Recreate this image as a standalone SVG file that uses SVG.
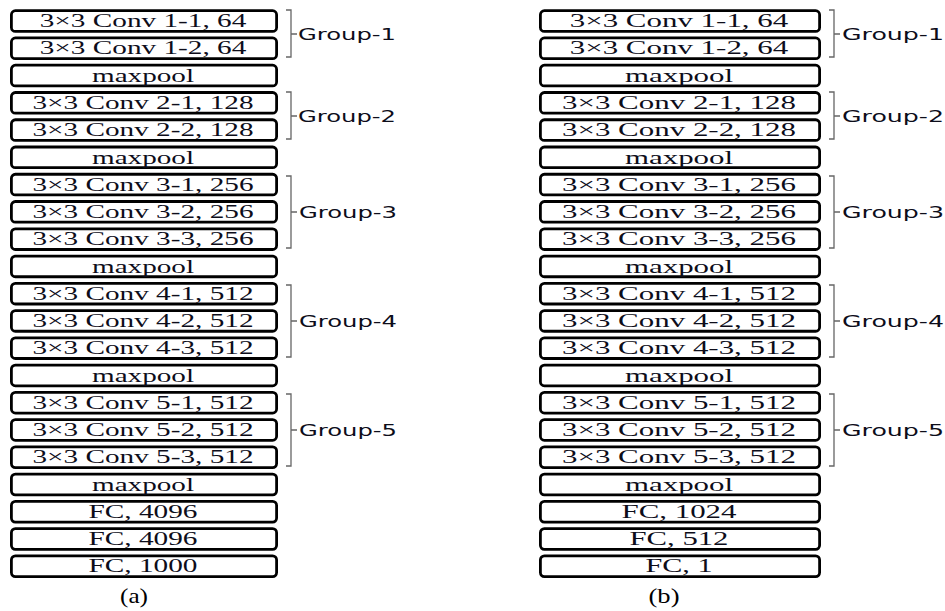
<svg xmlns="http://www.w3.org/2000/svg" width="945" height="611" viewBox="0 0 945 611">
<style>
.b{fill:#fff;stroke:#000;stroke-width:2.8}
.t{font-family:"Liberation Serif","Times New Roman",serif;font-size:18.5px;fill:#0d0d1a;text-anchor:middle}
.g{font-family:"DejaVu Sans","Open Sans",sans-serif;font-size:16px;fill:#0d0d1a}
.br{fill:none;stroke:#666;stroke-width:1.3}
.cap{font-family:"Liberation Serif","Times New Roman",serif;font-size:21px;fill:#000;text-anchor:middle}
</style>
<rect width="945" height="611" fill="#fff"/>
<defs>
<rect id="L" class="b" x="11.4" y="0" width="265.2" height="20.7" rx="4"/>
<rect id="R" class="b" x="540.4" y="0" width="279.2" height="20.7" rx="4"/>
</defs>
<g id="netA">
<g id="a1"><use href="#L" y="10.7"/><text class="t" x="143" y="27.2" textLength="206.5" lengthAdjust="spacingAndGlyphs">3×3 Conv 1-1, 64</text></g>
<g id="a2"><use href="#L" y="37.96"/><text class="t" x="143" y="54.46" textLength="206.5" lengthAdjust="spacingAndGlyphs">3×3 Conv 1-2, 64</text></g>
<g id="a3"><use href="#L" y="65.22"/><text class="t" x="143" y="81.72" textLength="102" lengthAdjust="spacingAndGlyphs">maxpool</text></g>
<g id="a4"><use href="#L" y="92.48"/><text class="t" x="143" y="108.98" textLength="221" lengthAdjust="spacingAndGlyphs">3×3 Conv 2-1, 128</text></g>
<g id="a5"><use href="#L" y="119.74"/><text class="t" x="143" y="136.24" textLength="221" lengthAdjust="spacingAndGlyphs">3×3 Conv 2-2, 128</text></g>
<g id="a6"><use href="#L" y="147"/><text class="t" x="143" y="163.5" textLength="102" lengthAdjust="spacingAndGlyphs">maxpool</text></g>
<g id="a7"><use href="#L" y="174.26"/><text class="t" x="143" y="190.76" textLength="221" lengthAdjust="spacingAndGlyphs">3×3 Conv 3-1, 256</text></g>
<g id="a8"><use href="#L" y="201.52"/><text class="t" x="143" y="218.02" textLength="221" lengthAdjust="spacingAndGlyphs">3×3 Conv 3-2, 256</text></g>
<g id="a9"><use href="#L" y="228.78"/><text class="t" x="143" y="245.28" textLength="221" lengthAdjust="spacingAndGlyphs">3×3 Conv 3-3, 256</text></g>
<g id="a10"><use href="#L" y="256.04"/><text class="t" x="143" y="272.54" textLength="102" lengthAdjust="spacingAndGlyphs">maxpool</text></g>
<g id="a11"><use href="#L" y="283.3"/><text class="t" x="143" y="299.8" textLength="221" lengthAdjust="spacingAndGlyphs">3×3 Conv 4-1, 512</text></g>
<g id="a12"><use href="#L" y="310.56"/><text class="t" x="143" y="327.06" textLength="221" lengthAdjust="spacingAndGlyphs">3×3 Conv 4-2, 512</text></g>
<g id="a13"><use href="#L" y="337.82"/><text class="t" x="143" y="354.32" textLength="221" lengthAdjust="spacingAndGlyphs">3×3 Conv 4-3, 512</text></g>
<g id="a14"><use href="#L" y="365.08"/><text class="t" x="143" y="381.58" textLength="102" lengthAdjust="spacingAndGlyphs">maxpool</text></g>
<g id="a15"><use href="#L" y="392.34"/><text class="t" x="143" y="408.84" textLength="221" lengthAdjust="spacingAndGlyphs">3×3 Conv 5-1, 512</text></g>
<g id="a16"><use href="#L" y="419.6"/><text class="t" x="143" y="436.1" textLength="221" lengthAdjust="spacingAndGlyphs">3×3 Conv 5-2, 512</text></g>
<g id="a17"><use href="#L" y="446.86"/><text class="t" x="143" y="463.36" textLength="221" lengthAdjust="spacingAndGlyphs">3×3 Conv 5-3, 512</text></g>
<g id="a18"><use href="#L" y="474.12"/><text class="t" x="143" y="490.62" textLength="102" lengthAdjust="spacingAndGlyphs">maxpool</text></g>
<g id="a19"><use href="#L" y="501.38"/><text class="t" x="143" y="517.88" textLength="109" lengthAdjust="spacingAndGlyphs">FC, 4096</text></g>
<g id="a20"><use href="#L" y="528.64"/><text class="t" x="143" y="545.14" textLength="109" lengthAdjust="spacingAndGlyphs">FC, 4096</text></g>
<g id="a21"><use href="#L" y="555.9"/><text class="t" x="143" y="572.4" textLength="109" lengthAdjust="spacingAndGlyphs">FC, 1000</text></g>
<text class="cap" x="134" y="603" textLength="28" lengthAdjust="spacingAndGlyphs">(a)</text>
</g>
<g id="netB">
<g id="b1"><use href="#R" y="10.7"/><text class="t" x="679" y="27.2" textLength="218.5" lengthAdjust="spacingAndGlyphs">3×3 Conv 1-1, 64</text></g>
<g id="b2"><use href="#R" y="37.96"/><text class="t" x="679" y="54.46" textLength="218.5" lengthAdjust="spacingAndGlyphs">3×3 Conv 1-2, 64</text></g>
<g id="b3"><use href="#R" y="65.22"/><text class="t" x="679" y="81.72" textLength="108" lengthAdjust="spacingAndGlyphs">maxpool</text></g>
<g id="b4"><use href="#R" y="92.48"/><text class="t" x="679" y="108.98" textLength="234" lengthAdjust="spacingAndGlyphs">3×3 Conv 2-1, 128</text></g>
<g id="b5"><use href="#R" y="119.74"/><text class="t" x="679" y="136.24" textLength="234" lengthAdjust="spacingAndGlyphs">3×3 Conv 2-2, 128</text></g>
<g id="b6"><use href="#R" y="147"/><text class="t" x="679" y="163.5" textLength="108" lengthAdjust="spacingAndGlyphs">maxpool</text></g>
<g id="b7"><use href="#R" y="174.26"/><text class="t" x="679" y="190.76" textLength="234" lengthAdjust="spacingAndGlyphs">3×3 Conv 3-1, 256</text></g>
<g id="b8"><use href="#R" y="201.52"/><text class="t" x="679" y="218.02" textLength="234" lengthAdjust="spacingAndGlyphs">3×3 Conv 3-2, 256</text></g>
<g id="b9"><use href="#R" y="228.78"/><text class="t" x="679" y="245.28" textLength="234" lengthAdjust="spacingAndGlyphs">3×3 Conv 3-3, 256</text></g>
<g id="b10"><use href="#R" y="256.04"/><text class="t" x="679" y="272.54" textLength="108" lengthAdjust="spacingAndGlyphs">maxpool</text></g>
<g id="b11"><use href="#R" y="283.3"/><text class="t" x="679" y="299.8" textLength="234" lengthAdjust="spacingAndGlyphs">3×3 Conv 4-1, 512</text></g>
<g id="b12"><use href="#R" y="310.56"/><text class="t" x="679" y="327.06" textLength="234" lengthAdjust="spacingAndGlyphs">3×3 Conv 4-2, 512</text></g>
<g id="b13"><use href="#R" y="337.82"/><text class="t" x="679" y="354.32" textLength="234" lengthAdjust="spacingAndGlyphs">3×3 Conv 4-3, 512</text></g>
<g id="b14"><use href="#R" y="365.08"/><text class="t" x="679" y="381.58" textLength="108" lengthAdjust="spacingAndGlyphs">maxpool</text></g>
<g id="b15"><use href="#R" y="392.34"/><text class="t" x="679" y="408.84" textLength="234" lengthAdjust="spacingAndGlyphs">3×3 Conv 5-1, 512</text></g>
<g id="b16"><use href="#R" y="419.6"/><text class="t" x="679" y="436.1" textLength="234" lengthAdjust="spacingAndGlyphs">3×3 Conv 5-2, 512</text></g>
<g id="b17"><use href="#R" y="446.86"/><text class="t" x="679" y="463.36" textLength="234" lengthAdjust="spacingAndGlyphs">3×3 Conv 5-3, 512</text></g>
<g id="b18"><use href="#R" y="474.12"/><text class="t" x="679" y="490.62" textLength="108" lengthAdjust="spacingAndGlyphs">maxpool</text></g>
<g id="b19"><use href="#R" y="501.38"/><text class="t" x="679" y="517.88" textLength="115" lengthAdjust="spacingAndGlyphs">FC, 1024</text></g>
<g id="b20"><use href="#R" y="528.64"/><text class="t" x="679" y="545.14" textLength="99" lengthAdjust="spacingAndGlyphs">FC, 512</text></g>
<g id="b21"><use href="#R" y="555.9"/><text class="t" x="679" y="572.4" textLength="67" lengthAdjust="spacingAndGlyphs">FC, 1</text></g>
<text class="cap" x="664" y="603" textLength="31" lengthAdjust="spacingAndGlyphs">(b)</text>
</g>
<g id="connectors">
<path class="br" d="M286,10H291V57H286M291,34H297"/>
<path class="br" d="M286,92H291V139H286M291,116H297"/>
<path class="br" d="M286,176H291V248H286M291,212H297"/>
<path class="br" d="M286,285H291V357H286M291,321H297"/>
<path class="br" d="M286,394H291V466H286M291,430H297"/>
<path class="br" d="M829,10H834V57H829M834,34H840"/>
<path class="br" d="M829,92H834V139H829M834,116H840"/>
<path class="br" d="M829,176H834V248H829M834,212H840"/>
<path class="br" d="M829,285H834V357H829M834,321H840"/>
<path class="br" d="M829,394H834V466H829M834,430H840"/>
</g>
<g id="labels">
<text class="g" x="298" y="40" textLength="98" lengthAdjust="spacingAndGlyphs">Group-1</text>
<text class="g" x="298" y="122" textLength="98" lengthAdjust="spacingAndGlyphs">Group-2</text>
<text class="g" x="299" y="218" textLength="98" lengthAdjust="spacingAndGlyphs">Group-3</text>
<text class="g" x="299" y="327" textLength="98" lengthAdjust="spacingAndGlyphs">Group-4</text>
<text class="g" x="299" y="436" textLength="98" lengthAdjust="spacingAndGlyphs">Group-5</text>
<text class="g" x="842" y="40" textLength="102" lengthAdjust="spacingAndGlyphs">Group-1</text>
<text class="g" x="842" y="122" textLength="102" lengthAdjust="spacingAndGlyphs">Group-2</text>
<text class="g" x="842" y="218" textLength="102" lengthAdjust="spacingAndGlyphs">Group-3</text>
<text class="g" x="842" y="327" textLength="102" lengthAdjust="spacingAndGlyphs">Group-4</text>
<text class="g" x="842" y="436" textLength="102" lengthAdjust="spacingAndGlyphs">Group-5</text>
</g>
</svg>
